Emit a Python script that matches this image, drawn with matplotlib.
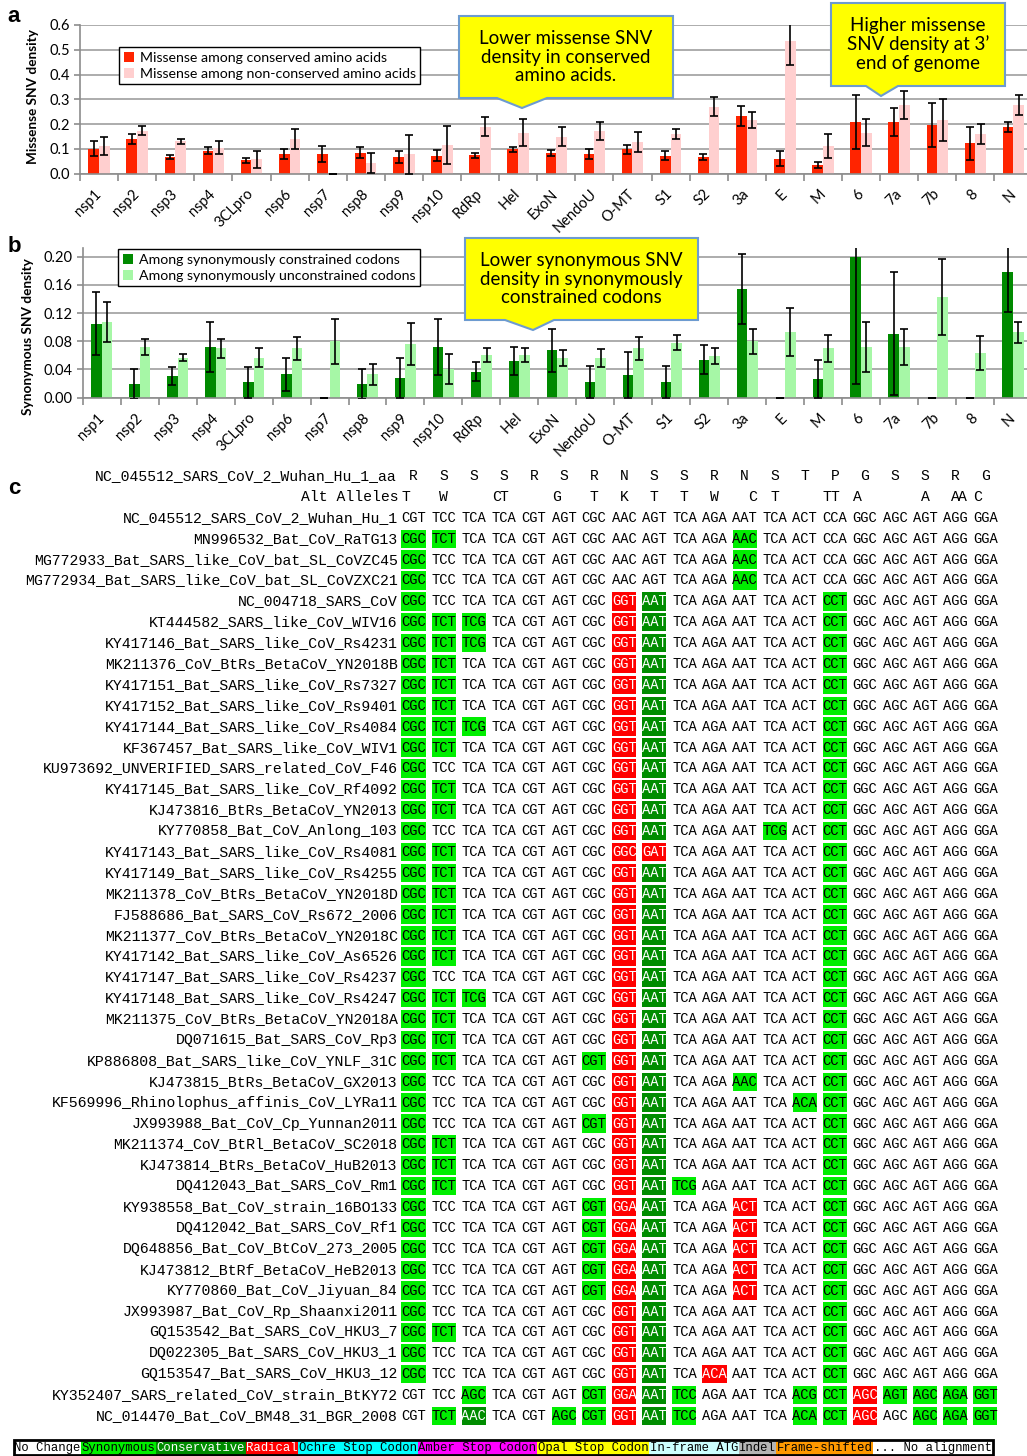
import numpy as np
import matplotlib
matplotlib.use("Agg")
import matplotlib.pyplot as plt
from matplotlib.patches import Rectangle, Polygon

W, H = 1027, 1456
plt.rcParams['font.family'] = ['Lato', 'DejaVu Sans']
MONO = 'Liberation Mono'

# ---------------- panel a / b data ----------------
genes = ['nsp1', 'nsp2', 'nsp3', 'nsp4', '3CLpro', 'nsp6', 'nsp7', 'nsp8', 'nsp9', 'nsp10',
         'RdRp', 'Hel', 'ExoN', 'NendoU', 'O-MT', 'S1', 'S2', '3a', 'E', 'M',
         '6', '7a', '7b', '8', 'N']

mis_cons = [0.100, 0.141, 0.067, 0.093, 0.054, 0.079, 0.079, 0.085, 0.067, 0.073,
            0.074, 0.098, 0.085, 0.079, 0.098, 0.073, 0.067, 0.233, 0.061, 0.036,
            0.209, 0.209, 0.196, 0.122, 0.190]
mis_cons_err = [0.030, 0.020, 0.007, 0.015, 0.011, 0.019, 0.032, 0.021, 0.025, 0.022,
                0.010, 0.011, 0.012, 0.020, 0.019, 0.018, 0.012, 0.040, 0.030, 0.012,
                0.109, 0.055, 0.089, 0.067, 0.020]
mis_noncons = [0.113, 0.174, 0.130, 0.105, 0.059, 0.140, 0.000, 0.043, 0.079, 0.117,
               0.190, 0.165, 0.149, 0.172, 0.128, 0.159, 0.270, 0.217, 0.537, 0.112,
               0.165, 0.277, 0.217, 0.160, 0.277]
mis_noncons_err = [0.037, 0.017, 0.009, 0.025, 0.034, 0.040, 0.000, 0.042, 0.079, 0.076,
                   0.038, 0.054, 0.038, 0.038, 0.041, 0.020, 0.038, 0.033, 0.100, 0.049,
                   0.055, 0.057, 0.086, 0.040, 0.040]

syn_cons = [0.105, 0.019, 0.031, 0.072, 0.022, 0.033, 0.000, 0.019, 0.028, 0.072,
            0.037, 0.052, 0.067, 0.022, 0.032, 0.022, 0.054, 0.154, 0.000, 0.026,
            0.200, 0.091, 0.000, 0.000, 0.178]
syn_cons_err = [0.045, 0.021, 0.013, 0.035, 0.022, 0.023, 0.000, 0.021, 0.029, 0.040,
                0.013, 0.020, 0.030, 0.023, 0.033, 0.023, 0.021, 0.050, 0.000, 0.027,
                0.180, 0.087, 0.000, 0.000, 0.056]
syn_uncons = [0.107, 0.072, 0.057, 0.070, 0.057, 0.070, 0.080, 0.033, 0.076, 0.041,
              0.061, 0.061, 0.056, 0.056, 0.070, 0.078, 0.059, 0.080, 0.093, 0.070,
              0.072, 0.072, 0.143, 0.063, 0.093]
syn_uncons_err = [0.028, 0.011, 0.005, 0.013, 0.014, 0.016, 0.032, 0.015, 0.030, 0.021,
                  0.010, 0.010, 0.011, 0.013, 0.016, 0.011, 0.011, 0.018, 0.034, 0.019,
                  0.035, 0.025, 0.054, 0.024, 0.015]

# ---------------- panel c data ----------------
ref_aa_label = 'NC_045512_SARS_CoV_2_Wuhan_Hu_1_aa'
ref_aa = 'R S S S R S R N S S R N S T P G S S R G'.split()
alt_alleles = ['T  ', ' W ', '   ', 'CT ', '   ', 'G  ', ' T ', ' K ', ' T ', ' T ',
               ' W ', '  C', ' T ', '   ', 'TT ', 'A  ', '   ', ' A ', ' AA', 'C  ']

REF = 'CGT TCC TCA TCA CGT AGT CGC AAC AGT TCA AGA AAT TCA ACT CCA GGC AGC AGT AGG GGA'
SA = 'CGC TCT TCA TCA CGT AGT CGC GGT AAT TCA AGA AAT TCA ACT CCT GGC AGC AGT AGG GGA'
SB = 'CGC TCC TCA TCA CGT AGT CGC GGT AAT TCA AGA AAT TCA ACT CCT GGC AGC AGT AGG GGA'
SC = 'CGC TCT TCG TCA CGT AGT CGC GGT AAT TCA AGA AAT TCA ACT CCT GGC AGC AGT AGG GGA'
SD = 'CGC TCC TCA TCA CGT AGT CGT GGA AAT TCA AGA ACT TCA ACT CCT GGC AGC AGT AGG GGA'
KA, KB, KC, KD = 'ss.....rc.....s.....', 's......rc.....s.....', 'sss....rc.....s.....', 's.....src..r..s.....'

seq_names = [
    'NC_045512_SARS_CoV_2_Wuhan_Hu_1', 'MN996532_Bat_CoV_RaTG13',
    'MG772933_Bat_SARS_like_CoV_bat_SL_CoVZC45', 'MG772934_Bat_SARS_like_CoV_bat_SL_CoVZXC21',
    'NC_004718_SARS_CoV', 'KT444582_SARS_like_CoV_WIV16', 'KY417146_Bat_SARS_like_CoV_Rs4231',
    'MK211376_CoV_BtRs_BetaCoV_YN2018B', 'KY417151_Bat_SARS_like_CoV_Rs7327',
    'KY417152_Bat_SARS_like_CoV_Rs9401', 'KY417144_Bat_SARS_like_CoV_Rs4084',
    'KF367457_Bat_SARS_like_CoV_WIV1', 'KU973692_UNVERIFIED_SARS_related_CoV_F46',
    'KY417145_Bat_SARS_like_CoV_Rf4092', 'KJ473816_BtRs_BetaCoV_YN2013',
    'KY770858_Bat_CoV_Anlong_103', 'KY417143_Bat_SARS_like_CoV_Rs4081',
    'KY417149_Bat_SARS_like_CoV_Rs4255', 'MK211378_CoV_BtRs_BetaCoV_YN2018D',
    'FJ588686_Bat_SARS_CoV_Rs672_2006', 'MK211377_CoV_BtRs_BetaCoV_YN2018C',
    'KY417142_Bat_SARS_like_CoV_As6526', 'KY417147_Bat_SARS_like_CoV_Rs4237',
    'KY417148_Bat_SARS_like_CoV_Rs4247', 'MK211375_CoV_BtRs_BetaCoV_YN2018A',
    'DQ071615_Bat_SARS_CoV_Rp3', 'KP886808_Bat_SARS_like_CoV_YNLF_31C',
    'KJ473815_BtRs_BetaCoV_GX2013', 'KF569996_Rhinolophus_affinis_CoV_LYRa11',
    'JX993988_Bat_CoV_Cp_Yunnan2011', 'MK211374_CoV_BtRl_BetaCoV_SC2018',
    'KJ473814_BtRs_BetaCoV_HuB2013', 'DQ412043_Bat_SARS_CoV_Rm1',
    'KY938558_Bat_CoV_strain_16BO133', 'DQ412042_Bat_SARS_CoV_Rf1',
    'DQ648856_Bat_CoV_BtCoV_273_2005', 'KJ473812_BtRf_BetaCoV_HeB2013',
    'KY770860_Bat_CoV_Jiyuan_84', 'JX993987_Bat_CoV_Rp_Shaanxi2011',
    'GQ153542_Bat_SARS_CoV_HKU3_7', 'DQ022305_Bat_SARS_CoV_HKU3_1',
    'GQ153547_Bat_SARS_CoV_HKU3_12', 'KY352407_SARS_related_CoV_strain_BtKY72',
    'NC_014470_Bat_CoV_BM48_31_BGR_2008',
]
seq_codons = [
    REF,
    'CGC TCT TCA TCA CGT AGT CGC AAC AGT TCA AGA AAC TCA ACT CCA GGC AGC AGT AGG GGA',
    'CGC TCC TCA TCA CGT AGT CGC AAC AGT TCA AGA AAC TCA ACT CCA GGC AGC AGT AGG GGA',
    'CGC TCC TCA TCA CGT AGT CGC AAC AGT TCA AGA AAC TCA ACT CCA GGC AGC AGT AGG GGA',
    SB, SC, SC, SA, SA, SA, SC, SA, SB, SA, SA,
    'CGC TCC TCA TCA CGT AGT CGC GGT AAT TCA AGA AAT TCG ACT CCT GGC AGC AGT AGG GGA',
    'CGC TCT TCA TCA CGT AGT CGC GGC GAT TCA AGA AAT TCA ACT CCT GGC AGC AGT AGG GGA',
    SA, SA, SA, SA, SA, SB, SC, SA, SA,
    'CGC TCT TCA TCA CGT AGT CGT GGT AAT TCA AGA AAT TCA ACT CCT GGC AGC AGT AGG GGA',
    'CGC TCC TCA TCA CGT AGT CGC GGT AAT TCA AGA AAC TCA ACT CCT GGC AGC AGT AGG GGA',
    'CGC TCC TCA TCA CGT AGT CGC GGT AAT TCA AGA AAT TCA ACA CCT GGC AGC AGT AGG GGA',
    'CGC TCC TCA TCA CGT AGT CGT GGT AAT TCA AGA AAT TCA ACT CCT GGC AGC AGT AGG GGA',
    SA, SA,
    'CGC TCT TCA TCA CGT AGT CGC GGT AAT TCG AGA AAT TCA ACT CCT GGC AGC AGT AGG GGA',
    SD, SD, SD, SD, SD, SB, SA, SB,
    'CGC TCC TCA TCA CGT AGT CGC GGT AAT TCA ACA AAT TCA ACT CCT GGC AGC AGT AGG GGA',
    'CGT TCC AGC TCA CGT AGT CGT GGA AAT TCC AGA AAT TCA ACG CCT AGC AGT AGC AGA GGT',
    'CGT TCT AAC TCA CGT AGC CGT GGT AAT TCC AGA AAT TCA ACA CCT AGC AGC AGC AGA GGT',
]
# '.' no change, 's' synonymous, 'c' conservative, 'r' radical
seq_classes = [
    '....................', 'ss.........s........', 's..........s........', 's..........s........',
    KB, KC, KC, KA, KA, KA, KC, KA, KB, KA, KA,
    's......rc...s.s.....', 'ss.....rr.....s.....',
    KA, KA, KA, KA, KA, KB, KC, KA, KA,
    'ss....src.....s.....', 's......rc..s..s.....', 's......rc....ss.....', 's.....src.....s.....',
    KA, KA, 'ss.....rcs....s.....',
    KD, KD, KD, KD, KD, KB, KA, KB,
    's......rc.r...s.....', '..s...srcs...ssrssss', '.sc..ssrcs...ssr.sss',
]

legend_labels = ['No Change', 'Synonymous', 'Conservative', 'Radical', 'Ochre Stop Codon',
                 'Amber Stop Codon', 'Opal Stop Codon', 'In-frame ATG', 'Indel',
                 'Frame-shifted', '... No alignment']
legend_colors = ['white', '#00ee00', '#008c00', '#ff0000', '#00ffff', '#ff00ff', '#ffff00',
                 '#ccffff', '#b4b4b4', '#ff9900', 'white']
legend_text_colors = ['black', 'black', 'white', 'white', 'black', 'black', 'black',
                      'black', 'black', 'black', 'black']

CLASS_FILL = {'s': '#00ee00', 'c': '#008c00', 'r': '#ff0000'}
CLASS_TEXT = {'.': 'black', 's': 'black', 'c': 'white', 'r': 'white'}

fig = plt.figure(figsize=(W / 100, H / 100), dpi=100)


def px_axes(x0, y0, x1, y1):
    return fig.add_axes([x0 / W, 1 - y1 / H, (x1 - x0) / W, (y1 - y0) / H])


def bar_panel(ax, v1, e1, v2, e2, colors, labels, ylim, yticks, fmt):
    x = np.arange(len(genes))
    w = 0.28
    ax.bar(x - w / 2, v1, w, color=colors[0], label=labels[0], zorder=2)
    ax.bar(x + w / 2, v2, w, color=colors[1], label=labels[1], zorder=2)
    for xs, v, e in ((x - w / 2, v1, e1), (x + w / 2, v2, e2)):
        ax.errorbar(xs, v, yerr=e, fmt='none', ecolor='black', elinewidth=1.2,
                    capsize=2.6, capthick=1.2, zorder=3)
    ax.set_xlim(-0.5, len(genes) - 0.5)
    ax.set_ylim(*ylim)
    ax.set_yticks(yticks)
    ax.set_yticklabels([fmt.format(t) for t in yticks], fontsize=10.5)
    ax.set_xticks(x)
    ax.set_xticklabels(genes, rotation=45, ha='right', va='center',
                       rotation_mode='anchor', fontsize=10.5)
    ax.set_xticks(np.arange(len(genes) + 1) - 0.5, minor=True)
    ax.tick_params(axis='x', which='major', length=0, pad=13)
    ax.tick_params(axis='x', which='minor', length=5, color='#8c8c8c', width=1.2)
    ax.tick_params(axis='y', length=4, color='#8c8c8c', width=1.2, pad=3)
    ax.yaxis.grid(True, color='#a6a6a6', lw=1.3)
    ax.set_axisbelow(True)
    for s in ('top', 'right'):
        ax.spines[s].set_visible(False)
    for s in ('left', 'bottom'):
        ax.spines[s].set_color('#8c8c8c')
        ax.spines[s].set_linewidth(1.2)


# panel a
ax_a = px_axes(80, 25, 1032.5, 173.7)
bar_panel(ax_a, mis_cons, mis_cons_err, mis_noncons, mis_noncons_err,
          ('#ff2400', '#ffcfcf'),
          ('Missense among conserved amino acids', 'Missense among non-conserved amino acids'),
          (0, 0.6), np.arange(0, 0.61, 0.1), '{:.1f}')
ax_a.legend(loc='upper left', bbox_to_anchor=(119 / W, 1 - 47 / H), bbox_transform=fig.transFigure,
            borderaxespad=0, fontsize=10.2, frameon=True, fancybox=False, framealpha=1,
            edgecolor='black', handlelength=0.7, handleheight=0.7, handletextpad=0.4,
            labelspacing=0.25, borderpad=0.35).get_frame().set_linewidth(1.0)
fig.text(33 / W, 1 - 97 / H, 'Missense SNV density', rotation=90, ha='center', va='center',
         fontsize=9.8, fontweight='bold')

# panel b
ax_b = px_axes(82.7, 248.2, 1032, 397.7)
bar_panel(ax_b, syn_cons, syn_cons_err, syn_uncons, syn_uncons_err,
          ('#008a00', '#a6f7a6'),
          ('Among synonymously constrained codons', 'Among synonymously unconstrained codons'),
          (0, 0.212), np.arange(0, 0.201, 0.04), '{:.2f}')
ax_b.legend(loc='upper left', bbox_to_anchor=(118 / W, 1 - 249 / H), bbox_transform=fig.transFigure,
            borderaxespad=0, fontsize=10.2, frameon=True, fancybox=False, framealpha=1,
            edgecolor='black', handlelength=0.7, handleheight=0.7, handletextpad=0.4,
            labelspacing=0.25, borderpad=0.35).get_frame().set_linewidth(1.0)
fig.text(28 / W, 1 - 337 / H, 'Synonymous SNV density', rotation=90, ha='center', va='center',
         fontsize=9.8, fontweight='bold')

# panel c alignment
n_rows = len(seq_names)
ax_c = px_axes(398.45, 465.6, 1000.45, 1426.4)
ax_c.set_xlim(-0.5, 19.5)
ax_c.set_ylim(n_rows - 0.5, -2.5)
ax_c.axis('off')

ax_c.text(-0.55, -2, ref_aa_label, ha='right', va='center', family=MONO, fontsize=10.6)
ax_c.text(-0.5, -1, 'Alt Alleles', ha='right', va='center', family=MONO, fontsize=10.6)
for j, aa in enumerate(ref_aa):
    ax_c.text(j, -2, aa, ha='center', va='center', family=MONO, fontsize=10.6)
    for k, ch in enumerate(alt_alleles[j]):
        if ch.strip():
            ax_c.text(j + (k - 1) * 0.25, -1, ch, ha='center', va='center', family=MONO, fontsize=10.6)

for r, (name, cods, cls) in enumerate(zip(seq_names, seq_codons, seq_classes)):
    ax_c.text(-0.53, r, name, ha='right', va='center', family=MONO, fontsize=10.7)
    for j, cod in enumerate(cods.split()):
        c = cls[j]
        if c in CLASS_FILL:
            ax_c.add_patch(Rectangle((j - 0.4, r - 0.44), 0.8, 0.88, color=CLASS_FILL[c], lw=0))
        ax_c.text(j, r, cod, ha='center', va='center', family=MONO, fontsize=9.9,
                  color=CLASS_TEXT[c])

# bottom colour legend
ax_l = px_axes(14, 1440, 993, 1455)
widths = [len(s) for s in legend_labels]
ax_l.set_xlim(0, sum(widths))
ax_l.set_ylim(0, 1)
ax_l.axis('off')
x0 = 0
for lab, wd, fc, tc in zip(legend_labels, widths, legend_colors, legend_text_colors):
    ax_l.add_patch(Rectangle((x0, 0), wd, 1, facecolor=fc, lw=0))
    ax_l.text(x0 + wd / 2, 0.45, lab, ha='center', va='center', family=MONO, fontsize=8.8, color=tc)
    x0 += wd
ax_l.add_patch(Rectangle((0, 0), sum(widths), 1, fill=False, ec='black', lw=2, clip_on=False))

# overlay: callouts and panel letters (pixel coordinates)
ov = fig.add_axes([0, 0, 1, 1])
ov.set_xlim(0, W)
ov.set_ylim(H, 0)
ov.axis('off')
ov.set_zorder(10)

callouts = [
    ((459, 673, 16, 98), (497, 522, 547, 108), 'Lower missense SNV\ndensity in conserved\namino acids.'),
    ((831, 1005, 3, 86), (866, 881, 898, 96), 'Higher missense\nSNV density at 3\u2019\nend of genome'),
    ((465, 698, 238, 320), (505, 533, 554, 330), 'Lower synonymous SNV\ndensity in synonymously\nconstrained codons'),
]
for (l, r_, t, b), (bl, tip, br, ty), txt in callouts:
    ov.add_patch(Polygon([(l, t), (r_, t), (r_, b), (br, b), (tip, ty), (bl, b), (l, b)],
                         closed=True, facecolor='#ffff00', edgecolor='#6d9bd0', lw=1.5))
    ov.text((l + r_) / 2, (t + b) / 2, txt, ha='center', va='center', fontsize=13.5,
            linespacing=1.1)

for letter, (lx, ly) in zip('abc', [(14, 16), (14, 246), (14, 489)]):
    ov.text(lx, ly, letter, ha='center', va='center', fontsize=16, fontweight='bold',
            family='Liberation Sans')

fig.savefig('out.png', dpi=100)
